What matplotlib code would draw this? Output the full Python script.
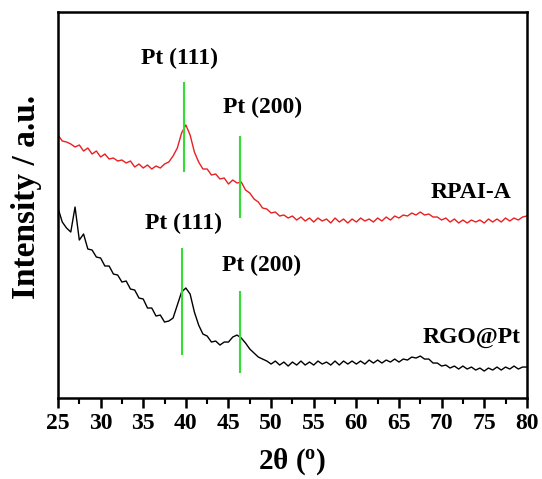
import numpy as np
import matplotlib
matplotlib.use("Agg")
import matplotlib.pyplot as plt
from matplotlib.ticker import MultipleLocator

plt.rcParams['font.family'] = ['Liberation Serif', 'DejaVu Serif']
plt.rcParams['font.weight'] = 'bold'
plt.rcParams['mathtext.fontset'] = 'custom'
plt.rcParams['mathtext.rm'] = 'Liberation Serif:bold'
plt.rcParams['mathtext.bf'] = 'Liberation Serif:bold'
plt.rcParams['mathtext.it'] = 'Liberation Serif:italic:bold'

two_theta = np.arange(25.0, 80.01, 0.5)

rpai_a = [265, 259, 258, 256, 253, 255, 249, 252, 246, 249,
          243, 246, 241, 242, 239, 240, 237, 239, 233, 236,
          232, 235, 231, 234, 232, 236, 238, 244, 252, 267,
          275, 265, 248, 238, 231, 231, 225, 226, 221, 222,
          216, 220, 217, 218, 210, 207, 201, 198, 192, 191,
          187, 188, 184, 185, 182, 184, 180, 183, 179, 182,
          178, 182, 179, 181, 177, 182, 178, 181, 177, 181,
          178, 182, 179, 181, 178, 182, 179, 183, 180, 184,
          182, 185, 184, 187, 185, 188, 185, 186, 183, 183,
          180, 182, 178, 181, 177, 180, 177, 180, 178, 180,
          177, 181, 178, 181, 178, 182, 179, 182, 180, 183,
          184]

rgo_pt = [192, 178, 172, 168, 193, 160, 166, 151, 150, 143,
          142, 134, 134, 126, 125, 118, 119, 111, 110, 102,
          101, 92, 92, 84, 85, 78, 79, 82, 95, 108,
          112, 106, 88, 75, 66, 64, 58, 59, 55, 58,
          58, 63, 65, 62, 57, 51, 47, 43, 41, 39,
          36, 39, 35, 38, 34, 38, 35, 39, 35, 38,
          35, 39, 36, 38, 35, 39, 35, 39, 36, 39,
          36, 39, 36, 40, 37, 40, 37, 40, 38, 41,
          38, 41, 40, 43, 42, 44, 41, 41, 37, 37,
          34, 35, 32, 34, 31, 34, 31, 33, 30, 32,
          29, 32, 30, 33, 30, 33, 31, 34, 31, 33,
          33]

peak_pos = [39.8, 46.3]
peak_labels = ['Pt (111)', 'Pt (200)']
xticks = list(range(25, 81, 5))

fig = plt.figure(figsize=(5.42, 4.79), dpi=100)
ax = fig.add_axes([0.107, 0.169, 0.865, 0.806])

ax.plot(two_theta, rpai_a, color='#e82020', lw=1.0)
ax.plot(two_theta, rgo_pt, color='black', lw=1.0)

green = '#33dd33'
ax.vlines(peak_pos[0], 228, 318, color=green, lw=1.5)
ax.vlines(peak_pos[1], 182, 264, color=green, lw=1.5)
ax.vlines(peak_pos[0] - 0.2, 45, 152, color=green, lw=1.5)
ax.vlines(peak_pos[1], 27, 109, color=green, lw=1.5)

fs = 17
ax.text(39.3, 342, peak_labels[0], ha='center', va='center', fontsize=fs, fontweight='bold')
ax.text(49.0, 293, peak_labels[1], ha='center', va='center', fontsize=fs, fontweight='bold')
ax.text(73.5, 208, 'RPAI-A', ha='center', va='center', fontsize=fs, fontweight='bold')
ax.text(39.7, 177, peak_labels[0], ha='center', va='center', fontsize=fs, fontweight='bold')
ax.text(48.9, 135, peak_labels[1], ha='center', va='center', fontsize=fs, fontweight='bold')
ax.text(73.5, 63, 'RGO@Pt', ha='center', va='center', fontsize=fs, fontweight='bold')

ax.set_xlim(25, 80)
ax.set_ylim(2, 388)
ax.set_xticks(xticks)
ax.xaxis.set_minor_locator(MultipleLocator(2.5))
ax.set_yticks([])
ax.tick_params(axis='x', which='major', direction='out', length=7, width=1.8,
               labelsize=17, pad=4)
ax.tick_params(axis='x', which='minor', direction='out', length=4, width=1.5)
for lab in ax.get_xticklabels():
    lab.set_fontweight('bold')
for sp in ax.spines.values():
    sp.set_linewidth(1.8)

ax.set_xlabel('2θ ($\\mathregular{^{o}}$)', fontsize=21, fontweight='bold')
ax.xaxis.set_label_coords(0.50, -0.125)
ax.set_ylabel('Intensity / a.u.', fontsize=24, fontweight='bold')
ax.yaxis.set_label_coords(-0.035, 0.52)

fig.savefig('out.png', dpi=100)
